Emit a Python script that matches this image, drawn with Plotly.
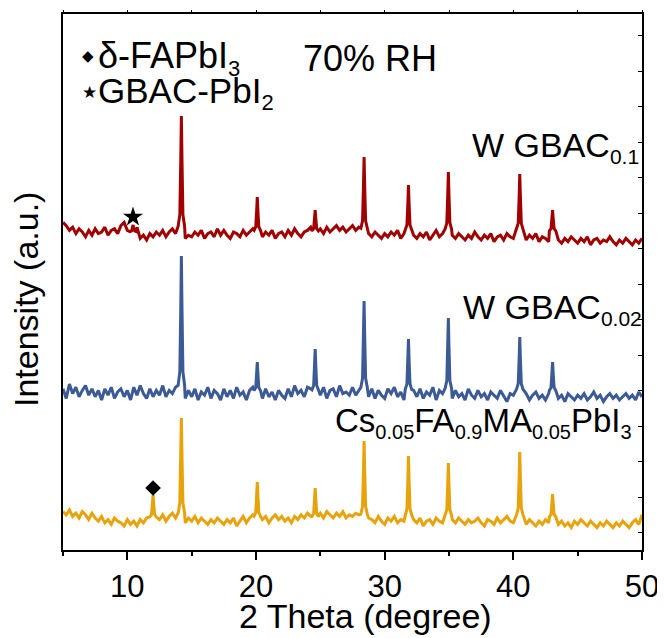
import numpy as np
import plotly.graph_objects as go

# ---------------- data (intensity in arbitrary units, offset-stacked) ----------------
X_START, X_STEP = 5.0, 0.25          # sampling grid of the hand-read baselines (2θ, degree)
NOISE_UNIT = 1.6                     # intensity per noise count in the lists below

PEAK_POS = [14.2, 20.1, 24.6, 28.4, 31.85, 34.95, 40.5, 43.05]

RED_OFFSET = 318
RED_NOISE = [
    6, 4, 1, 3, -1, 2, 0, -3, 1, -2,
    2, -1, 0, 3, -2, 1, 2, -1, 4, 6,
    1, -1, 5, 3, -4, -2, -5, -1, -3, 0,
    -2, 1, -3, 0, 2, -1, 3, 2, -4, -2,
    -3, 0, -2, 1, -4, -1, 0, -3, 2, -2,
    1, -2, -4, 0, -1, -3, 1, -2, 0, 2,
    0, -1, -3, 0, -2, 1, -4, -1, 0, -3,
    1, -2, 2, -1, -3, 0, 1, 3, 0, 0,
    2, -1, 3, 0, 2, 4, 1, 3, 0, 2,
    4, 1, 3, 0, 0, -1, -3, 0, -2, -4,
    -1, -3, 0, -2, 1, -4, -1, 0, 0, -2,
    -4, -1, -3, 0, -5, -2, 1, -3, -1, 0,
    0, -2, -4, -1, -3, -5, -2, -4, 0, -3,
    -5, -2, -4, -1, -6, -3, -2, -5, -1, -3,
    -4, -2, -3, 0, -5, -2, -4, -1, -6, -3,
    -4, -6, -2, 0, -5, -7, -4, -6, -3, -5,
    -7, -4, -6, -3, -8, -5, -4, -7, -5, -6,
    -3, -6, -8, -5, -7, -4, -6, -8, -5, -7,
    -4,
]
RED_PEAK_POS = [10.45] + PEAK_POS
RED_PEAK_H = [7, 116, 35, 22, 75, 47, 60, 58, 22]

BLUE_OFFSET = 158
BLUE_NOISE = [
    2, -4, 5, -1, 3, -3, 1, 4, -2, 2,
    -3, 1, -5, 2, -2, 3, -4, 0, 2, -3,
    1, -5, 3, -2, 4, -1, -4, 2, -3, 1,
    -2, 4, -3, 1, -1, 3, 0, 0, -4, 1,
    -3, 2, -5, 0, -2, 3, -4, 1, -1, -5,
    2, -3, 1, -4, 3, -2, 0, -5, 1, 3,
    0, 1, -4, 2, -3, 0, -5, 1, -2, -4,
    2, -3, 4, -1, 1, -3, 3, 2, 0, 0,
    -2, 3, -4, 1, 2, -3, 4, -1, 0, -2,
    3, -2, 1, 0, 0, -3, 2, -4, 1, -2,
    -4, 2, -1, 3, -3, 0, -5, 0, 0, 1,
    -3, 2, -4, 0, -2, 3, -5, 1, -1, 0,
    0, -4, 1, -3, -1, -5, 2, -2, -4, 1,
    -3, -1, -5, 0, -2, -4, 1, -3, -6, -1,
    -2, -4, 0, -3, -1, -5, -2, 0, -4, -2,
    -5, -1, -3, 0, -4, -2, -6, -1, -3, -5,
    -2, -4, -1, -5, -3, 0, -4, -2, -6, -3,
    -1, -4, -2, -5, -3, -1, -4, -2, -5, 0,
    -3,
]
BLUE_PEAK_POS = PEAK_POS
BLUE_PEAK_H = [136, 30, 43, 91, 53, 74, 55, 30]

YEL_OFFSET = 32
YEL_NOISE = [
    4, 2, 5, 1, 3, 0, 4, 2, -1, 3,
    0, -2, 1, -3, -1, -4, 0, -2, -3, -5,
    -1, -4, -2, -5, -1, -3, 0, 0, 0, 1,
    -1, 2, -2, 1, 3, 0, 0, 0, -3, 0,
    -2, 1, -3, 0, -2, -4, -1, -3, 0, -2,
    -4, -1, -3, 0, -5, -2, 1, -3, 0, 2,
    0, 2, -1, 1, -3, 0, 2, -1, 1, -2,
    0, -3, 1, -1, 2, 0, 3, 1, 0, 0,
    3, 0, 4, 2, 0, 3, 1, 4, 0, 2,
    1, 3, 2, 0, 0, 0, -1, -3, 1, -2,
    -4, 0, -2, 1, -3, -1, -2, 0, 0, -1,
    -3, 0, -5, -2, -1, -4, 0, -2, -3, 0,
    0, -1, -3, 0, -2, -4, -1, -3, -2, 0,
    -3, -5, -1, -2, -4, 0, -3, -1, 1, -2,
    -3, -1, 0, -2, -4, -1, -3, -5, -2, -4,
    -1, -3, -2, 0, -4, -2, -5, -3, -6, -2,
    -4, -1, -3, -5, -2, -4, -6, -3, -5, -2,
    -4, -6, -3, -5, -2, -4, -6, -3, -1, -4,
    2,
]
YEL_PEAK_POS = [12.0] + PEAK_POS
YEL_PEAK_H = [23, 100, 36, 30, 77, 62, 55, 66, 24]

# peak profile (relative shape of one reflection)
PROFILE_DX = [-0.25, -0.12, -0.05, 0.0, 0.05, 0.12, 0.25]
PROFILE_F = [0.05, 0.15, 0.6, 1.0, 0.6, 0.15, 0.05]

# phase markers
STAR_X, STAR_Y = [10.44], [333]
DIAMOND_X, DIAMOND_Y = [12.0], [62]

X_TICKS = [10, 20, 30, 40, 50]

RED, BLUE, YELLOW = "#A00000", "#3C5A96", "#E8A20A"


def build(noise, offset, pos, heights):
    xs = X_START + X_STEP * np.arange(len(noise))
    pts = [(x, offset + NOISE_UNIT * n) for x, n in zip(xs, noise)
           if all(abs(x - p) > 0.26 for p in pos)]
    for p, h in zip(pos, heights):
        for dx, f in zip(PROFILE_DX, PROFILE_F):
            pts.append((p + dx, offset + h * f))
    pts.sort()
    return [p[0] for p in pts], [p[1] for p in pts]


fig = go.Figure()
for noise, off, pos, hh, col in [
    (YEL_NOISE, YEL_OFFSET, YEL_PEAK_POS, YEL_PEAK_H, YELLOW),
    (BLUE_NOISE, BLUE_OFFSET, BLUE_PEAK_POS, BLUE_PEAK_H, BLUE),
    (RED_NOISE, RED_OFFSET, RED_PEAK_POS, RED_PEAK_H, RED),
]:
    x, y = build(noise, off, pos, hh)
    fig.add_trace(go.Scatter(x=x, y=y, mode="lines",
                             line=dict(color=col, width=3), showlegend=False,
                             hoverinfo="skip"))

fig.add_trace(go.Scatter(x=STAR_X, y=STAR_Y, mode="markers", showlegend=False,
                         marker=dict(symbol="star", size=15, color="black")))
fig.add_trace(go.Scatter(x=DIAMOND_X, y=DIAMOND_Y, mode="markers", showlegend=False,
                         marker=dict(symbol="diamond", size=12, color="black")))
# invisible trace that carries the mirrored (top / right) tick axes
fig.add_trace(go.Scatter(x=[5], y=[0], xaxis="x2", yaxis="y2", mode="markers",
                         marker=dict(opacity=0), showlegend=False, hoverinfo="skip"))

# ---------------- layout ----------------
# page body has an 8px margin: figure is drawn 8px right/down of the window origin
OFF = 8
L, R, T, B = 63, 642, 14, 550          # plot frame in window pixels
W, H = 665 - OFF, 638 - OFF


def px(X):
    return (X - L) / (R - L)


def py(Y):
    return (B - Y) / (B - T)


FONT = "Liberation Sans, Arial, sans-serif"
ann = []


def sub(s, size):
    return f"<sub><span style='font-size:{size}px'>{s}</span></sub>"


def text(s, X, Y, size=36, xanchor="left", angle=0):
    ann.append(dict(text=s, x=px(X), y=py(Y), xref="paper", yref="paper",
                    xanchor=xanchor, yanchor="middle", showarrow=False,
                    textangle=angle, font=dict(family=FONT, size=size, color="black")))


text("◆", 80, 56, size=15)
text("δ-FAPbI" + sub("3", 22), 96, 58)
text("70% RH", 301, 58)
text("★", 80, 93, size=17)
text("GBAC-PbI" + sub("2", 22), 96, 93, size=35)
text("W GBAC" + sub("0.1", 21), 470, 147, size=34)
text("W GBAC" + sub("0.02", 21), 461, 309, size=34)
text("Cs" + sub("0.05", 20) + "FA" + sub("0.9", 20) + "MA" + sub("0.05", 20)
     + "PbI" + sub("3", 20), 333, 422, size=33)
text("2 Theta (degree)", 365, 616, size=34, xanchor="center")
text("Intensity (a.u.)", 26, 300, size=34, xanchor="center", angle=-90)

fig.update_layout(
    width=W, height=H,
    margin=dict(l=L - OFF, r=W - (R - OFF), t=T - OFF, b=H - (B - OFF), pad=0),
    paper_bgcolor="white", plot_bgcolor="white",
    font=dict(family=FONT, size=31, color="black"),
    annotations=ann,
    xaxis=dict(range=[5, 50], tickvals=X_TICKS, ticks="outside", ticklen=8,
               tickwidth=1.5, tickcolor="black", showline=True, linecolor="black",
               linewidth=1.8, mirror=True, showgrid=False, zeroline=False,
               automargin=False, tickfont=dict(family=FONT, size=31),
               minor=dict(tick0=5, dtick=5, ticks="outside", ticklen=4,
                          tickwidth=1.5, tickcolor="black", showgrid=False)),
    yaxis=dict(range=[0, 536], showticklabels=False, ticks="", showline=True,
               linecolor="black", linewidth=1.8, mirror=True, showgrid=False,
               zeroline=False, automargin=False),
    xaxis2=dict(range=[5, 50], overlaying="x", side="top", tick0=5, dtick=5,
                ticks="outside", ticklen=3, tickwidth=1, tickcolor="black",
                showticklabels=False, showgrid=False, zeroline=False,
                showline=False, automargin=False),
    yaxis2=dict(range=[0, 536], overlaying="y", side="right", tick0=17.5, dtick=35.5,
                ticks="inside", ticklen=4, tickwidth=1, tickcolor="black",
                showticklabels=False, showgrid=False, zeroline=False,
                showline=False, automargin=False),
)

fig.write_html("out.html")
